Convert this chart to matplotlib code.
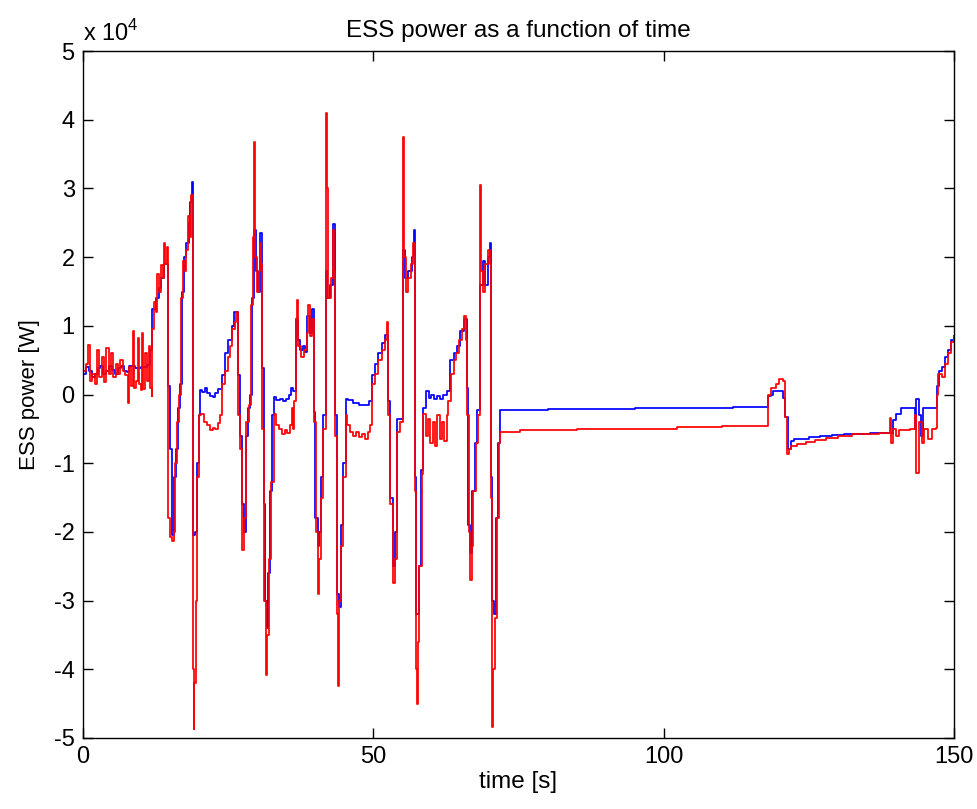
import matplotlib
matplotlib.use("Agg")
import matplotlib.pyplot as plt
from matplotlib.ticker import FuncFormatter

plt.rcParams['font.family'] = ['Liberation Sans', 'DejaVu Sans']
plt.rcParams['mathtext.fontset'] = 'custom'
plt.rcParams['mathtext.rm'] = 'Liberation Sans'

# ---------------- data ----------------
t_blue = [0, 0.5, 1.0, 1.5, 2.0, 2.5, 3.0, 3.5, 4.0, 4.5, 5.0, 5.5, 6.0, 6.5, 7.0, 7.5,
          8.0, 9.0, 10.0, 11.0, 11.5,
          11.9, 12.5, 13.0, 13.5, 14.0, 14.6, 15.0, 15.3, 15.7, 16.0, 16.4, 16.7, 17.0, 17.4,
          17.8, 18.2, 18.5, 18.8, 19.0, 19.3, 19.6, 19.9,
          20.1, 20.5, 21.0, 21.3, 21.8, 22.3, 22.8, 23.3, 23.9, 24.5, 25.0, 25.6, 26.0, 26.5,
          26.7, 27.0, 27.3, 27.8, 28.0, 28.4, 28.8, 29.1, 29.4, 29.8, 30.2, 30.5, 30.9, 31.1,
          31.3, 31.6, 31.9, 32.2, 32.6, 32.8, 33.3, 34.0, 34.5, 35.0, 35.5, 35.8, 36.2, 36.7,
          37.0, 37.3, 37.8, 38.2, 38.6, 39.0, 39.4, 39.7, 40.0, 40.4, 40.7, 41.0, 41.4, 41.8,
          42.0, 42.5, 43.0, 43.4, 43.7, 44.0, 44.4, 44.8, 45.2, 45.7, 46.5, 47.5, 48.5, 49.2,
          49.7, 50.3, 50.8, 51.4, 52.0, 52.5, 52.9, 53.3, 53.7, 54.0, 55.1, 55.4, 56.0, 56.6,
          57.0, 57.2, 57.4, 57.8, 58.2, 58.6, 59.0, 59.5, 60.0, 60.5, 61.0, 61.5, 62.0, 62.7,
          63.2, 63.8, 64.4, 65.0, 65.6, 66.1, 66.3, 66.7, 67.0, 67.5, 67.9, 68.4, 68.8, 69.3,
          69.7, 70.0, 70.2, 70.4, 70.8, 71.2, 71.5, 71.8,
          80.0, 95.0, 105.0, 112.0,
          118.0, 118.4, 118.8, 120.6, 120.9, 121.4, 121.9, 122.5, 123.5, 125.0, 127.0, 129.0,
          131.0, 133.0, 135.5, 139.5, 140.0, 140.8, 142.8, 143.2, 143.5, 144.0, 144.3, 144.6,
          146.9, 147.0, 147.4, 148.0, 148.5, 149.0, 149.5, 150.0]
p_blue = [3000, 4000, 3500, 2500, 3000, 3800, 4200, 3000, 3500, 4200, 3600, 3000, 3800, 4100, 3500, 3300,
          4200, 3900, 4000, 4300, 6500,
          12500, 14000, 15500, 17000, 19000, 1200, -8000, -20500, -12000, -8000, -2000, 1500, 15000, 20000,
          22000, 25000, 28000, 31000, -20500, -20000, -10000, -3000,
          600, 300, 900, 200, -200, -300, 200, 800, 2800, 6000, 8000, 10000, 12000, 12000,
          2800, -6000, -16000, -20000, -6000, -2000, 0, 14000, 24000, 18000, 15000, 23500, 3800, -16000,
          -30000, -34000, -26000, -14000, -3000, -300, -800, -600, -1000, -700, 0, 900, 500, 11000,
          8000, 6500, 7000, 6200, 11500, 9000, 12500, -2500, -18000, -22000, -20000, -12000, -3000, 18000,
          14000, 16000, 24800, -3000, -29000, -31000, -19000, -10000, -600, -800, -1300, -1500, -1500, -1000,
          2800, 4500, 6000, 7500, 8700, -1000, -15000, -25000, -20000, -3500, 21000, 17000, 18000, 20000,
          24000, -12000, -32000, -25000, -11000, -2000, 500, -500, 0, -700, -200, -600, 0, 500,
          5000, 6000, 7000, 9300, 11000, 1000, -19000, -23000, -14000, -7000, -2200, 16000, 19500, 16000,
          20000, 22000, -12000, -30000, -32000, -18000, -7000, -2200,
          -2100, -2000, -1900, -1800,
          -200, 0, 500, -500, -3200, -8000, -6800, -6500, -6400, -6200, -6000, -5900,
          -5800, -5700, -5600, -3700, -2900, -1900, -1900, -5000, -700, -3000, -6000, -1900,
          -1900, 1200, 3500, 4000, 5500, 6500, 8000, 8500]

t_red = [0, 0.5, 0.9, 1.2, 1.6, 2.0, 2.4, 2.8, 3.2, 3.6, 4.0, 4.4, 4.8, 5.2, 5.6, 6.0, 6.4, 6.8,
         7.3, 7.7, 7.9, 8.3, 8.6, 8.8, 9.1, 9.4, 9.6, 9.9, 10.2, 10.4, 10.7, 11.0, 11.3, 11.5, 11.8,
         11.9, 12.2, 12.5, 12.8, 13.1, 13.4, 13.7, 14.0, 14.2, 14.4, 14.6, 14.9, 15.3, 15.6, 15.8,
         16.2, 16.5, 16.8, 17.2, 17.5, 17.8, 18.1, 18.4, 18.6, 18.9, 19.03, 19.1, 19.4, 19.7,
         20.0, 20.3, 20.8, 21.3, 21.8, 22.3, 22.8, 23.3, 23.6, 23.9, 24.4, 24.9, 25.3, 25.7, 26.1,
         26.4, 26.7, 27.0, 27.4, 27.8, 28.0, 28.5, 29.0, 29.3, 29.45, 29.6, 29.9, 30.3, 30.5, 30.7,
         30.9, 31.1, 31.5, 31.6, 32.0, 32.4, 32.8, 33.2, 33.7, 34.2, 34.7, 35.2, 35.7, 36.0, 36.2,
         36.4, 36.7, 36.9, 37.1, 37.5, 38.0, 38.5, 38.8, 39.1, 39.4, 39.7, 40.1, 40.4, 40.7, 41.0,
         41.4, 41.8, 41.95, 42.2, 42.7, 43.0, 43.2, 43.4, 43.7, 43.9, 44.0, 44.4, 44.8, 45.2, 45.5,
         46.0, 46.5, 47.0, 47.5, 48.0, 48.5, 49.0, 49.4, 49.7, 50.3, 50.8, 51.4, 52.0, 52.3, 52.5,
         52.9, 53.3, 53.7, 54.0, 54.5, 55.1, 55.25, 55.6, 56.0, 56.5, 56.8, 57.1, 57.2, 57.4, 57.5,
         57.6, 57.9, 58.3, 58.6, 59.0, 59.4, 59.8, 60.2, 60.6, 61.0, 61.4, 61.8, 62.2, 62.6, 62.9,
         63.3, 63.8, 64.3, 64.8, 65.3, 65.6, 65.9, 66.1, 66.4, 66.7, 66.9, 67.2, 67.6, 68.0, 68.4,
         68.55, 68.9, 69.3, 69.7, 70.0, 70.2, 70.35, 70.45, 70.55, 70.9, 71.3, 71.6, 71.8,
         75.2, 85.0, 102.3, 110.0,
         118.0, 118.5, 119.3, 119.8, 120.6, 120.9, 121.3, 121.6, 122.0, 123.0, 124.5, 126.0, 128.0,
         130.0, 132.5, 135.0, 137.0, 138.9, 139.2, 139.5, 140.0, 140.5, 142.5, 143.2, 143.5, 144.0,
         144.4, 144.8, 145.5, 146.2, 146.9, 147.0, 147.3, 148.0, 148.5, 149.0, 149.5, 150.0]
p_red = [3500, 4500, 7200, 2000, 3000, 1500, 6500, 2500, 5500, 1800, 6800, 3000, 6000, 2500, 4500, 3000,
         5000, 3500, 2800, -1200, 4000, 1200, 9300, 1000, 2000, 8300, 1500, 700, 9000, 800, 6000, 2000,
         7000, 1000, -200,
         9500, 13500, 12000, 17500, 15000, 18800, 17000, 22000, 19000, 21500, -18000, -20800, -21300,
         -20000, -10000, -4000, 0, 14000, 19500, 18000, 21000, 26000, 23000, 29000, -40000, -48700,
         -42000, -30000, -12000,
         -3000, -2800, -4000, -4500, -5200, -4800, -5000, -4200, -3000, 1500, 3500, 5500, 7000, 9500,
         10500, 12000, -3000, -8000, -22600, -18000, -4000, -1500, 13000, 23000, 36800, 20000, 15000,
         18000, 22000, 19000, -5000, -30000, -40800, -35000, -24000, -12700, -2800, -4500, -5000,
         -5800, -5200, -5600, -4500, -2000, -5000, -1000, 11000, 13700, 7000, 5500, 6500, 9000, 13000,
         8500, 11000, -4000, -20000, -29000, -24000, -15000, -5000, 41000, 30000, 14000, 17000, 24000,
         18000, -6000, -32000, -42500, -30000, -22000, -12000, -3000, -4500, -5500, -6000, -5500,
         -6200, -5800, -6500, -5500, -4400, 1500, 3000, 5000, 6500, 8000, 10500, -3000, -16000, -27500,
         -24000, -5500, -4000, 37500, 20000, 15000, 17000, 19000, 22000, 18000, -14000, -40000, -45000,
         -36000, -25000, -11500, -2800, -6000, -3500, -7000, -4000, -7500, -3000, -6500, -4000, -6800,
         -3000, -1000, 3000, 5000, 6000, 8000, 9500, 11500, 8000, -3000, -20000, -27000, -22000,
         -14000, -7000, -3000, 30500, 18000, 15000, 19000, 21000, 19000, -15000, -44600, -48400,
         -40000, -32500, -18000, -7000, -5400,
         -5100, -5000, -4700, -4600,
         0, 1000, 1500, 2300, 2000, -3200, -8700, -8000, -7500, -7200, -6900, -6600, -6300,
         -6000, -5800, -5700, -5600, -3400, -7000, -5000, -6000, -5200, -5000, -3000, -11400, -4000,
         -7100, -5000, -6500, -5000, -4800, 0, 3000, 2500, 4500, 6000, 7600, 8400]

x_ticks = [0, 50, 100, 150]
y_ticks = [-50000, -40000, -30000, -20000, -10000, 0, 10000, 20000, 30000, 40000, 50000]

# ---------------- figure ----------------
fig = plt.figure(figsize=(9.77, 8.09), dpi=100)
ax = fig.add_axes([0.085, 0.0878, 0.8915, 0.849])

ax.plot(t_blue, p_blue, color=(0, 0, 1), lw=1.25, drawstyle='steps-post')
ax.plot(t_red, p_red, color=(1, 0, 0), lw=1.25, drawstyle='steps-post')

ax.set_xlim(0, 150)
ax.set_ylim(-50000, 50000)
ax.set_xticks(x_ticks)
ax.set_yticks(y_ticks)
ax.xaxis.set_major_formatter(FuncFormatter(lambda v, p: f"{v:g}"))
ax.yaxis.set_major_formatter(FuncFormatter(lambda v, p: f"{v/1e4:g}"))
ax.tick_params(direction='in', length=7, width=1, top=True, right=True,
               labelsize=17, pad=6)
for s in ax.spines.values():
    s.set_linewidth(1.0)

ax.set_title("ESS power as a function of time", fontsize=17.5, pad=10)
ax.set_xlabel("time [s]", fontsize=17.5, labelpad=2)
ax.set_ylabel("ESS power [W]", fontsize=16, labelpad=10)
ax.text(0.0, 1.008, r"x 10$^{4}$", transform=ax.transAxes, fontsize=17,
        ha='left', va='bottom')

fig.savefig("out.png", dpi=100)
